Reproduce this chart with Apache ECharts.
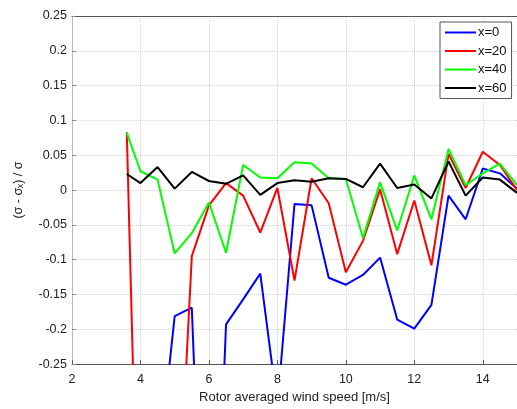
<!DOCTYPE html>
<html>
<head>
<meta charset="utf-8">
<script src="https://cdn.jsdelivr.net/npm/echarts@6/dist/echarts.min.js"></script>
<style>
  html, body { margin: 0; padding: 0; background: #fff; }
  #chart { width: 517px; height: 409px; }
</style>
</head>
<body>
<div id="chart"></div>
<script>
// wind speed bins [m/s]
var speed = [3.6, 4, 4.5, 5, 5.5, 6, 6.5, 7, 7.5, 8, 8.5, 9, 9.5, 10, 10.5, 11, 11.5, 12, 12.5, 13, 13.5, 14, 14.5, 15];

// (sigma - sigma_x) / sigma for each downstream distance
var x0  = [-0.55, -0.5, -0.41, -0.181, -0.169, -0.8, -0.193, -0.157, -0.12, -0.31, -0.02, -0.022, -0.126, -0.136, -0.122, -0.097, -0.186, -0.199, -0.165, -0.008, -0.042, 0.031, 0.024, 0.002];
var x20 = [0.083, -0.66, -0.7, -0.58, -0.095, -0.022, 0.01, -0.008, -0.061, 0.003, -0.13, 0.017, -0.019, -0.118, -0.073, 0.001, -0.092, -0.015, -0.108, 0.052, 0.003, 0.055, 0.036, 0.0];
var x40 = [0.082, 0.027, 0.015, -0.091, -0.062, -0.018, -0.09, 0.036, 0.018, 0.017, 0.04, 0.038, 0.017, 0.016, -0.069, 0.011, -0.058, 0.021, -0.042, 0.059, 0.007, 0.024, 0.038, 0.007];
var x60 = [0.023, 0.01, 0.033, 0.002, 0.026, 0.013, 0.009, 0.021, -0.007, 0.01, 0.014, 0.012, 0.017, 0.016, 0.004, 0.038, 0.003, 0.008, -0.012, 0.041, -0.008, 0.018, 0.015, -0.004];

var names = ['x=0', 'x=20', 'x=40', 'x=60'];
var colors = ['#0000ff', '#ff0000', '#00ff00', '#000000'];
var yTicks = [-0.25, 0.25, 0.05];
var xTicks = [2, 15, 2];

function pairs(vals) {
  return speed.map(function (s, i) { return [s, vals[i]]; });
}

var chart = echarts.init(document.getElementById('chart'));
var font = 'Liberation Sans, Arial, sans-serif';

var series = [x0, x20, x40, x60].map(function (vals, i) {
  return {
    name: names[i],
    type: 'line',
    symbol: 'none',
    clip: true,
    lineStyle: { color: colors[i], width: 2 },
    itemStyle: { color: colors[i] },
    data: pairs(vals)
  };
});

chart.setOption({
  backgroundColor: '#fff',
  animation: false,
  grid: { left: 72, top: 16, right: -3, bottom: 37 },
  legend: {
    orient: 'vertical',
    left: 440,
    top: 22,
    icon: 'rect',
    itemWidth: 31,
    itemHeight: 2,
    itemGap: 3.5,
    padding: [3, 5, 3, 5],
    backgroundColor: '#fff',
    borderColor: '#555',
    borderWidth: 1,
    borderRadius: 0,
    textStyle: { fontFamily: font, fontSize: 13, color: '#111', padding: [0, 0, 0, -3], lineHeight: 15 },
    data: names
  },
  xAxis: [{
    type: 'value',
    min: xTicks[0],
    max: xTicks[1],
    interval: xTicks[2],
    name: 'Rotor averaged wind speed [m/s]',
    nameLocation: 'middle',
    nameGap: 24,
    nameTextStyle: { fontFamily: font, fontSize: 13, color: '#222' },
    axisLine: { onZero: false, lineStyle: { color: '#555', width: 1 } },
    axisTick: { inside: true, length: 4, lineStyle: { color: '#555' } },
    axisLabel: {
      fontFamily: font, fontSize: 12.5, color: '#222', margin: 9,
      showMaxLabel: false,
      formatter: function (v) { return v > 14 ? '' : String(v); }
    },
    splitLine: { show: true, lineStyle: { color: '#d4d4d4', type: 'dotted', width: 1 } }
  }, {
    type: 'value',
    position: 'top',
    min: xTicks[0],
    max: xTicks[1],
    interval: xTicks[2],
    axisLine: { onZero: false, lineStyle: { color: '#555', width: 1 } },
    axisTick: { show: false },
    axisLabel: { show: false },
    splitLine: { show: false }
  }],
  yAxis: {
    type: 'value',
    min: yTicks[0],
    max: yTicks[1],
    interval: yTicks[2],
    name: '(σ - σₓ) / σ',
    nameLocation: 'middle',
    nameGap: 47,
    nameRotate: 90,
    nameTextStyle: { fontFamily: font, fontSize: 12.5, color: '#222' },
    axisLine: { show: true, onZero: false, lineStyle: { color: '#bbb', width: 1 } },
    axisTick: { show: true, inside: true, length: 4, lineStyle: { color: '#888' } },
    axisLabel: { fontFamily: font, fontSize: 12.5, color: '#222', margin: 5 },
    splitLine: { show: true, lineStyle: { color: '#d4d4d4', type: 'dotted', width: 1 } }
  },
  series: series
});
</script>
</body>
</html>
